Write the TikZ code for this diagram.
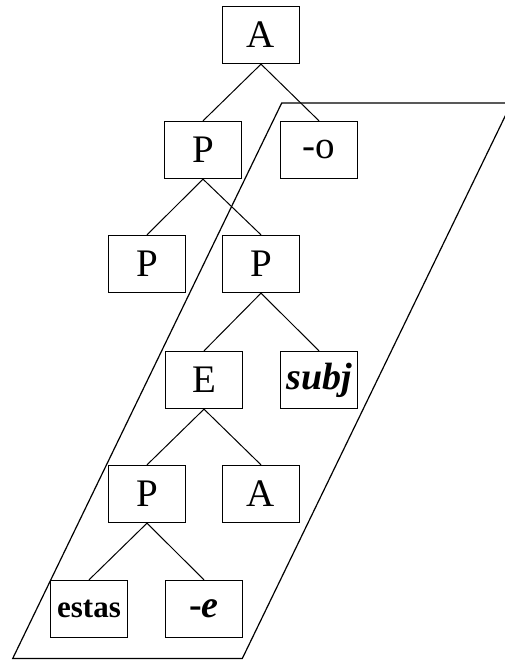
\documentclass[tikz,border=0pt]{standalone}
\usepackage{fontspec}
\setmainfont{Liberation Serif}
\begin{document}
\begin{tikzpicture}[x=1pt,y=-1pt,
  box/.style={draw,line width=1.3pt,minimum width=77pt,minimum height=57pt,inner sep=0pt,font=\fontsize{39}{39}\selectfont},
  small/.style={font=\fontsize{31}{31}\selectfont\bfseries},
  bi/.style={font=\fontsize{38}{38}\selectfont\bfseries\itshape},
  edge/.style={line width=1pt},
  frame/.style={line width=1.2pt}]
\useasboundingbox (0,0) rectangle (505,660);
\clip (0,0) rectangle (505,660);
\node[box] (A1) at (261,35) {A};
\node[box] (P2) at (203,150) {P};
\node[box] (O2) at (319,150) {-o};
\node[box] (P3l) at (147,264) {P};
\node[box] (P3r) at (261,264) {P};
\node[box] (E4) at (204,380) {E};
\node[box,bi] (S4) at (319,380) {subj};
\node[box] (P5) at (147,494) {P};
\node[box] (A5) at (261,494) {A};
\node[box,small] (ES) at (89,609) {estas};
\node[box,bi] (EE) at (204,609) {{\upshape -}e};
\draw[edge] (A1.south) -- (P2.north);
\draw[edge] (A1.south) -- (O2.north);
\draw[edge] (P2.south) -- (P3l.north);
\draw[edge] (P2.south) -- (P3r.north);
\draw[edge] (P3r.south) -- (E4.north);
\draw[edge] (P3r.south) -- (S4.north);
\draw[edge] (E4.south) -- (P5.north);
\draw[edge] (E4.south) -- (A5.north);
\draw[edge] (P5.south) -- (ES.north);
\draw[edge] (P5.south) -- (EE.north);
\draw[frame] (281.7,103) -- (511.5,103) -- (242.3,658.5) -- (12.7,658.5) -- cycle;
\end{tikzpicture}
\end{document}
